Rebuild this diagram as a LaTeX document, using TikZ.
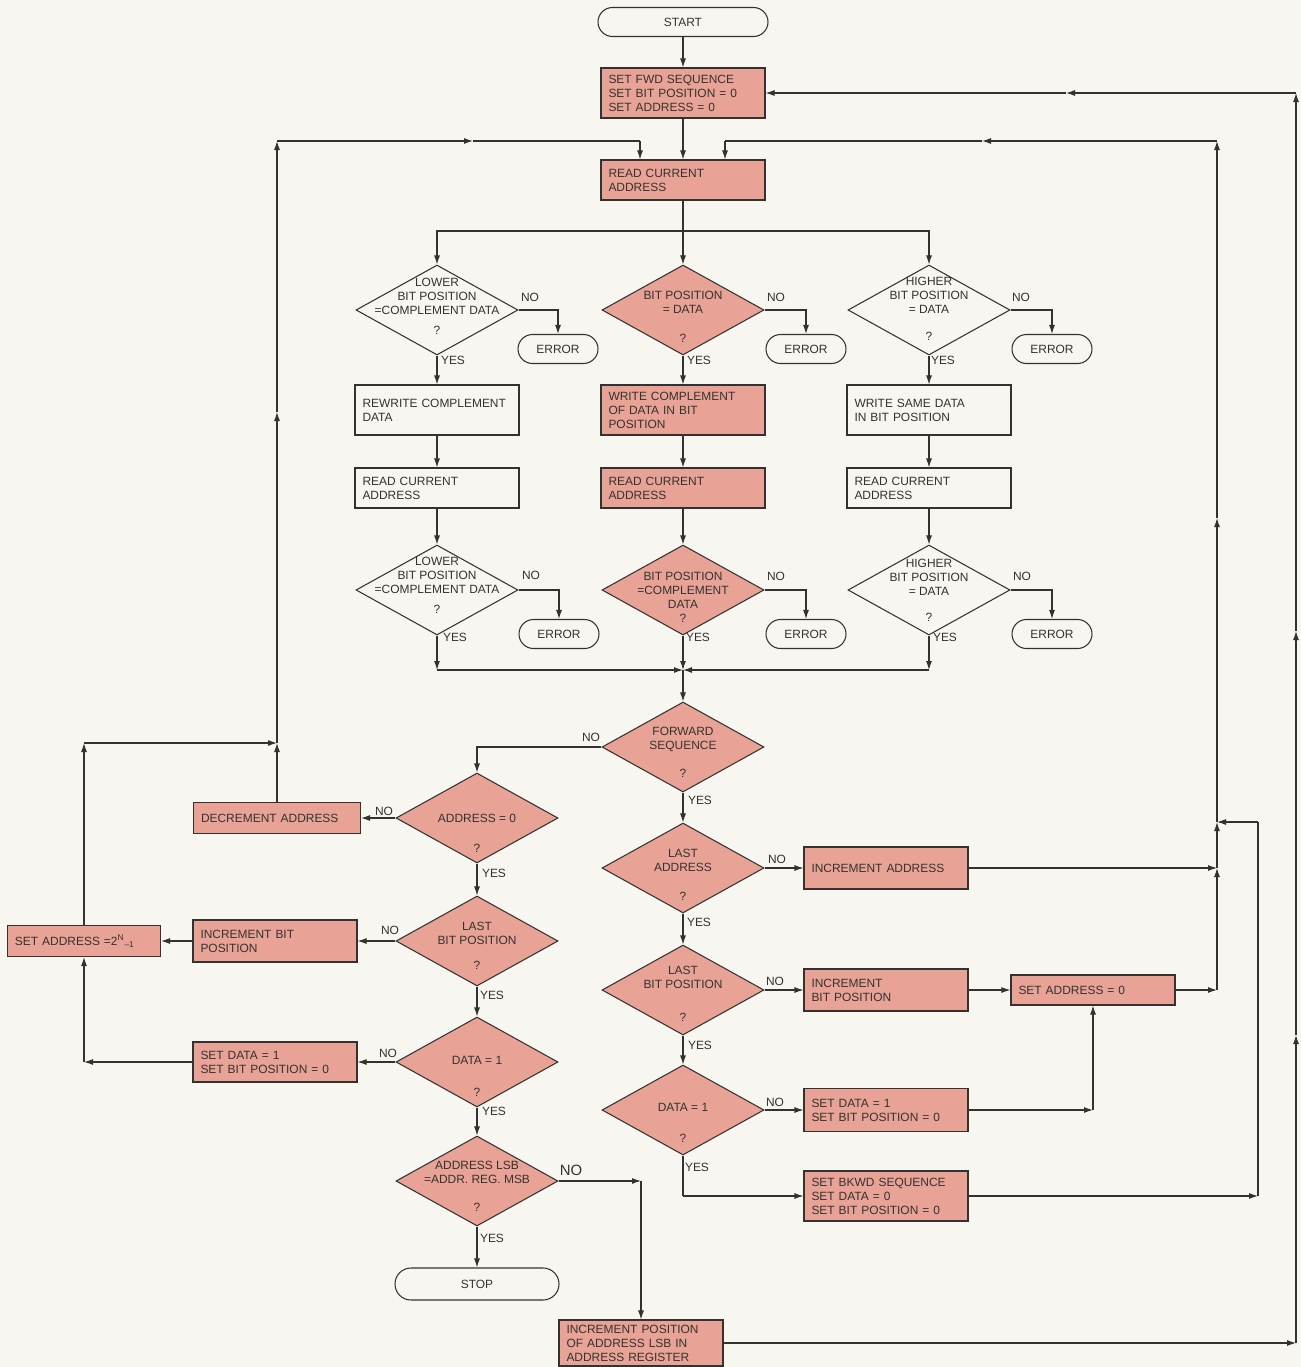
\documentclass[tikz,border=0pt]{standalone}
\usepackage{fontspec}
\setmainfont{Liberation Sans}
\usepackage{tikz}
\usepackage{xcolor}
\usetikzlibrary{arrows.meta,shapes.geometric}
\definecolor{ink}{RGB}{52,50,48}
\definecolor{paper}{RGB}{248,246,240}
\definecolor{salmon}{RGB}{233,163,150}
\newlength\pxu
\setlength\pxu{0.569pt}
\newcommand{\qbox}[2]{\smash{\raisebox{#1\pxu}{\makebox[0pt]{\begin{tabular}[t]{@{}c@{}}#2\end{tabular}}}}}

\begin{document}
\begin{tikzpicture}[
  x=0.2mm, y=-0.2mm,
  font=\fontsize{6.8}{8}\selectfont,
  box/.style={draw=ink, line width=0.6pt, fill=salmon, text=ink, text width=29.8mm, inner xsep=1.5mm, inner ysep=0pt, align=left},
  wbox/.style={box, fill=paper},
  term/.style={draw=ink, line width=0.6pt, fill=paper, text=ink, rounded corners=2.9mm, minimum width=16mm, minimum height=5.8mm, inner sep=0pt, align=center},
  dec/.style={diamond, draw=ink, line width=0.6pt, fill=salmon, text=ink, minimum width=32.4mm, minimum height=18mm, inner sep=0pt},
  wdec/.style={dec, fill=paper},
  lbl/.style={text=ink, inner sep=0pt},
  ln/.style={draw=ink, line width=0.6pt},
  arr/.style={ln, -{Latex[length=1.8mm, width=1.2mm]}}
]
\useasboundingbox (0,0) rectangle (1301,1367);
\fill[paper] (0,0) rectangle (1301,1367);
\node[term, minimum width=34mm] (start) at (683,22) {START};
\node[box, minimum height=10mm] (fwd) at (683,93) {SET FWD SEQUENCE\\SET BIT POSITION = 0\\SET ADDRESS = 0};
\node[box, minimum height=8mm] (read) at (683,180) {READ CURRENT\\ADDRESS};
\node[wdec] (lowA) at (437,310) {\qbox{23.6}{LOWER\\BIT POSITION\\=COMPLEMENT DATA\\[3.4pt]?}};
\node[dec] (bitA) at (683,310) {\qbox{10.6}{BIT POSITION\\= DATA\\[8.5pt]?}};
\node[wdec] (highA) at (929,310) {\qbox{24.6}{HIGHER\\BIT POSITION\\= DATA\\[7.4pt]?}};
\node[term] (errLA) at (558,349) {ERROR};
\node[term] (errBA) at (806,349) {ERROR};
\node[term] (errHA) at (1052,349) {ERROR};
\node[wbox, minimum height=10mm] (rewr) at (437,410) {REWRITE COMPLEMENT\\DATA};
\node[box, minimum height=10mm] (wrcomp) at (683,410) {WRITE COMPLEMENT\\OF DATA IN BIT\\POSITION};
\node[wbox, minimum height=10mm] (wrsame) at (929,410) {WRITE SAME DATA\\IN BIT POSITION};
\node[wbox, minimum height=8mm] (readL) at (437,488) {READ CURRENT\\ADDRESS};
\node[box, minimum height=8mm] (readM) at (683,488) {READ CURRENT\\ADDRESS};
\node[wbox, minimum height=8mm] (readR) at (929,488) {READ CURRENT\\ADDRESS};
\node[wdec] (lowB) at (437,590) {\qbox{24.6}{LOWER\\BIT POSITION\\=COMPLEMENT DATA\\[3.4pt]?}};
\node[dec] (bitB) at (683,590) {\qbox{9.6}{BIT POSITION\\=COMPLEMENT\\DATA\\?}};
\node[wdec] (highB) at (929,590) {\qbox{22.6}{HIGHER\\BIT POSITION\\= DATA\\[6.8pt]?}};
\node[term] (errLB) at (559,634) {ERROR};
\node[term] (errBB) at (806,634) {ERROR};
\node[term] (errHB) at (1052,634) {ERROR};
\node[dec] (fwdq) at (683,747) {\qbox{11.6}{FORWARD\\SEQUENCE\\[8pt]?}};
\node[dec] (addr0) at (477,818) {\qbox{-4.4}{ADDRESS = 0\\[9pt]?}};
\node[box, text width=30.4mm, minimum height=6.2mm] (decr) at (277,818) {DECREMENT ADDRESS};
\node[dec] (lastbL) at (477,941) {\qbox{10.6}{LAST\\BIT POSITION\\[6.2pt]?}};
\node[box, minimum height=8.4mm] (incbL) at (275,941) {INCREMENT BIT\\POSITION};
\node[box, text width=27.6mm, minimum height=6.2mm] (setaN) at (84,941) {SET ADDRESS =2\textsuperscript{N}\textsubscript{--1}};
\node[dec] (data1L) at (477,1062) {\qbox{-2.4}{DATA = 1\\[10pt]?}};
\node[box, minimum height=8mm] (setdL) at (275,1062) {SET DATA = 1\\SET BIT POSITION = 0};
\node[dec] (lsb) at (477,1181) {\qbox{11.6}{ADDRESS LSB\\=ADDR. REG. MSB\\[8pt]?}};
\node[term, minimum width=32.8mm, minimum height=6.4mm, rounded corners=3.2mm] (stop) at (477,1284) {STOP};
\node[box, minimum height=9.2mm] (incpos) at (641,1343) {INCREMENT POSITION\\OF ADDRESS LSB IN\\ADDRESS REGISTER};
\node[dec] (lastaddr) at (683,868) {\qbox{10.6}{LAST\\ADDRESS\\[8.5pt]?}};
\node[box, minimum height=8.4mm] (incaddr) at (886,868) {INCREMENT ADDRESS};
\node[dec] (lastbR) at (683,990) {\qbox{15.6}{LAST\\BIT POSITION\\[11pt]?}};
\node[box, minimum height=8.4mm] (incbR) at (886,990) {INCREMENT\\BIT POSITION};
\node[box, minimum height=6mm] (seta0) at (1093,990) {SET ADDRESS = 0};
\node[dec] (data1R) at (683,1110) {\qbox{-1.4}{DATA = 1\\[9.6pt]?}};
\node[box, minimum height=8.6mm] (setdR) at (886,1110) {SET DATA = 1\\SET BIT POSITION = 0};
\node[box, minimum height=10mm] (bkwd) at (886,1196) {SET BKWD SEQUENCE\\SET DATA = 0\\SET BIT POSITION = 0};
\node[lbl] (noLA) at (530,297) {NO};
\node[lbl] (noBA) at (776,297) {NO};
\node[lbl] (noHA) at (1021,297) {NO};
\node[lbl] (yesLA) at (453,360) {YES};
\node[lbl] (yesBA) at (699,360) {YES};
\node[lbl] (yesHA) at (943,360) {YES};
\node[lbl] (noLB) at (531,575) {NO};
\node[lbl] (noBB) at (776,576) {NO};
\node[lbl] (noHB) at (1022,576) {NO};
\node[lbl] (yesLB) at (455,637) {YES};
\node[lbl] (yesBB) at (698,637) {YES};
\node[lbl] (yesHB) at (945,637) {YES};
\node[lbl] (noF) at (591,737) {NO};
\node[lbl] (yesF) at (700,800) {YES};
\node[lbl] (noLa) at (777,859) {NO};
\node[lbl] (yesLa) at (699,922) {YES};
\node[lbl] (noLbR) at (775,981) {NO};
\node[lbl] (yesLbR) at (700,1045) {YES};
\node[lbl] (noDR) at (775,1102) {NO};
\node[lbl] (yesDR) at (697,1167) {YES};
\node[lbl] (noA0) at (384,811) {NO};
\node[lbl] (yesA0) at (494,873) {YES};
\node[lbl] (noLbL) at (390,930) {NO};
\node[lbl] (yesLbL) at (492,995) {YES};
\node[lbl] (noDL) at (388,1053) {NO};
\node[lbl] (yesDL) at (494,1111) {YES};
\node[lbl, font=\fontsize{8.5}{10}\selectfont] (noLsb) at (571,1170) {NO};
\node[lbl] (yesLsb) at (492,1238) {YES};
\coordinate (split) at (683,231);
\coordinate (mergeL) at (437,670);
\coordinate (merge) at (683,670);
\coordinate (mergeR) at (929,670);
\coordinate (cNtop) at (84,743);
\coordinate (cJ) at (277,743);
\coordinate (cL1) at (277,412);
\coordinate (cLtop) at (277,141);
\coordinate (cLmid) at (473,141);
\coordinate (cLin) at (640,141);
\coordinate (cSD) at (84,1062);
\coordinate (rA) at (1217,868);
\coordinate (rB) at (1217,990);
\coordinate (rC) at (1217,822);
\coordinate (rD) at (1217,518);
\coordinate (rE) at (1217,141);
\coordinate (rF) at (982,141);
\coordinate (rG) at (725,141);
\coordinate (bA) at (1258,1196);
\coordinate (bB) at (1258,822);
\coordinate (sA) at (1093,1110);
\coordinate (yA) at (683,1196);
\coordinate (lA) at (641,1181);
\coordinate (oA) at (1296,1343);
\coordinate (oB) at (1296,1035);
\coordinate (oC) at (1296,631);
\coordinate (oD) at (1296,93);
\coordinate (oE) at (1066,93);
\draw[arr] (start) -- (fwd);
\draw[arr] (fwd) -- (read);
\draw[arr] (read) -- (bitA);
\draw[arr] (split) -| (lowA);
\draw[arr] (split) -| (highA);
\draw[arr] (lowA.east) -| (errLA);
\draw[arr] (bitA.east) -| (errBA);
\draw[arr] (highA.east) -| (errHA);
\draw[arr] (lowA) -- (rewr);
\draw[arr] (bitA) -- (wrcomp);
\draw[arr] (highA) -- (wrsame);
\draw[arr] (rewr) -- (readL);
\draw[arr] (wrcomp) -- (readM);
\draw[arr] (wrsame) -- (readR);
\draw[arr] (readL) -- (lowB);
\draw[arr] (readM) -- (bitB);
\draw[arr] (readR) -- (highB);
\draw[arr] (lowB.east) -| (errLB);
\draw[arr] (bitB.east) -| (errBB);
\draw[arr] (highB.east) -| (errHB);
\draw[arr] (lowB) -- (mergeL);
\draw[arr] (highB) -- (mergeR);
\draw[arr] (mergeL) -- (merge);
\draw[arr] (mergeR) -- (merge);
\draw[arr] (bitB) -- (merge);
\draw[arr] (merge) -- (fwdq);
\draw[arr] (fwdq.west) -| (addr0);
\draw[arr] (fwdq) -- (lastaddr);
\draw[arr] (addr0) -- (decr);
\draw[arr] (addr0) -- (lastbL);
\draw[arr] (lastbL) -- (incbL);
\draw[arr] (incbL) -- (setaN);
\draw[arr] (lastbL) -- (data1L);
\draw[arr] (data1L) -- (setdL);
\draw[arr] (setdL) -- (cSD);
\draw[arr] (cSD) -- (setaN);
\draw[arr] (setaN) -- (cNtop);
\draw[arr] (cNtop) -- (cJ);
\draw[arr] (decr) -- (cJ);
\draw[arr] (cJ) -- (cL1);
\draw[arr] (cL1) -- (cLtop);
\draw[arr] (cLtop) -- (cLmid);
\draw[ln] (cLmid) -- (cLin);
\draw[arr] (cLin) -- (cLin |- read.north);
\draw[arr] (data1L) -- (lsb);
\draw[arr] (lsb) -- (stop);
\draw[arr] (lsb.east) -- (lA);
\draw[arr] (lA) -- (incpos);
\draw[arr] (lastaddr) -- (incaddr);
\draw[arr] (lastaddr) -- (lastbR);
\draw[arr] (lastbR) -- (incbR);
\draw[arr] (incbR) -- (seta0);
\draw[arr] (lastbR) -- (data1R);
\draw[arr] (data1R) -- (setdR);
\draw[arr] (setdR) -- (sA);
\draw[arr] (sA) -- (seta0);
\draw[ln] (data1R) -- (yA);
\draw[arr] (yA) -- (bkwd);
\draw[arr] (incaddr) -- (rA);
\draw[arr] (seta0) -- (rB);
\draw[arr] (rB) -- (rA);
\draw[arr] (rA) -- (rC);
\draw[arr] (rC) -- (rD);
\draw[arr] (rD) -- (rE);
\draw[arr] (rE) -- (rF);
\draw[ln] (rF) -- (rG);
\draw[arr] (rG) -- (rG |- read.north);
\draw[arr] (bkwd) -- (bA);
\draw[ln] (bA) -- (bB);
\draw[arr] (bB) -- (rC);
\draw[arr] (incpos) -- (oA);
\draw[arr] (oA) -- (oB);
\draw[arr] (oB) -- (oC);
\draw[arr] (oC) -- (oD);
\draw[arr] (oD) -- (oE);
\draw[arr] (oE) -- (fwd);
\end{tikzpicture}
\end{document}
